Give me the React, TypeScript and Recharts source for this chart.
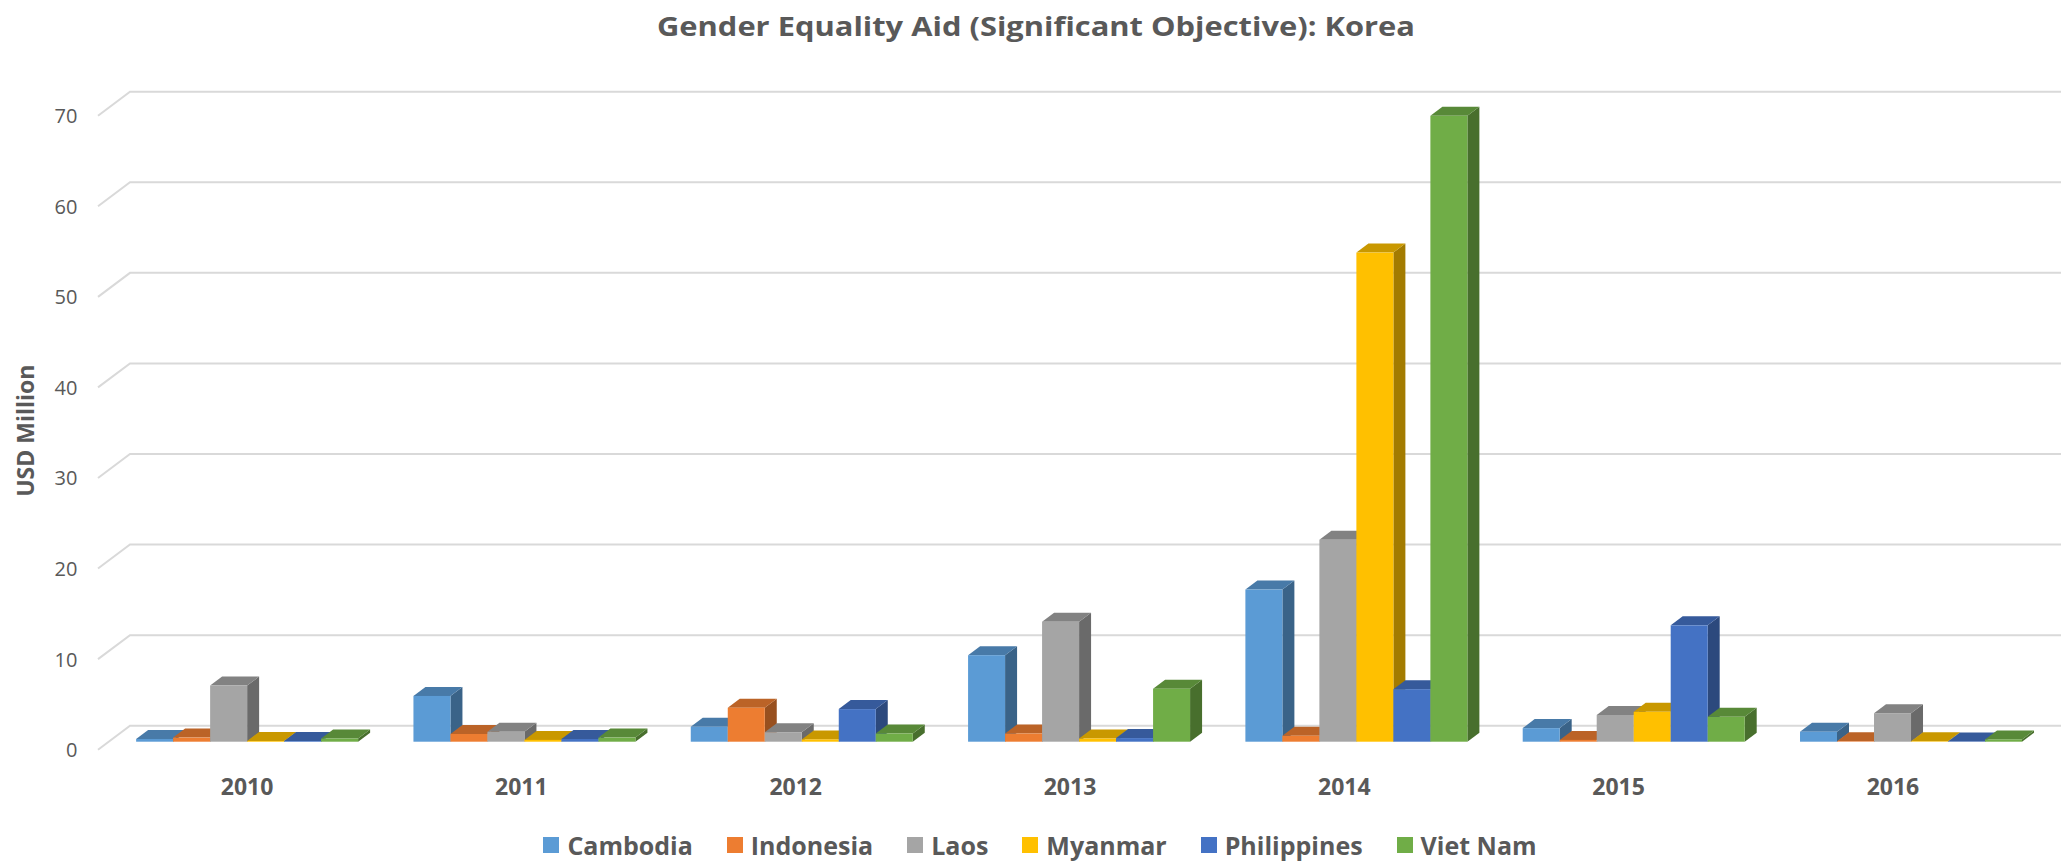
import React from 'react';
import { BarChart, Bar, XAxis, YAxis, CartesianGrid, Legend } from 'recharts';

const years = ['2010', '2011', '2012', '2013', '2014', '2015', '2016'];
const countries = ['Cambodia', 'Indonesia', 'Laos', 'Myanmar', 'Philippines', 'Viet Nam'];
const colors = ['#5B9BD5', '#ED7D31', '#A5A5A5', '#FFC000', '#4472C4', '#70AD47'];

// USD million
const cambodia = [0.3, 5.05, 1.65, 9.55, 16.8, 1.5, 1.1];
const indonesia = [0.45, 0.85, 3.75, 0.9, 0.65, 0.2, 0.05];
const laos = [6.2, 1.1, 1.05, 13.25, 22.3, 2.95, 3.15];
const myanmar = [0.08, 0.2, 0.25, 0.35, 54.0, 3.3, 0.05];
const philippines = [0.08, 0.3, 3.6, 0.4, 5.8, 12.85, 0.03];
const vietNam = [0.35, 0.45, 0.9, 5.85, 69.1, 2.75, 0.25];

const seriesValues = [cambodia, indonesia, laos, myanmar, philippines, vietNam];
const yTicks = [0, 10, 20, 30, 40, 50, 60, 70];

const data = years.map((year, i) => {
  const row: Record<string, string | number> = { year };
  countries.forEach((c, k) => {
    row[c] = seriesValues[k][i];
  });
  return row;
});

const W = 2061;
const H = 863;
const TEXT = '#595959';
const FONT = "'Open Sans', 'Noto Sans', sans-serif";

// 3D look: bar depth and wall offsets
const DX = 12;
const DY = 9;

const shade = (hex: string, f: number) => {
  const n = parseInt(hex.slice(1), 16);
  const r = Math.round(((n >> 16) & 255) * f);
  const g = Math.round(((n >> 8) & 255) * f);
  const b = Math.round((n & 255) * f);
  return `rgb(${r},${g},${b})`;
};

const Bar3D = (props: any) => {
  const { x, y, width, height, fill } = props;
  if (x == null || y == null) return null;
  const top = `M${x},${y} L${x + DX},${y - DY} L${x + width + DX},${y - DY} L${x + width},${y} Z`;
  const side = `M${x + width},${y} L${x + width + DX},${y - DY} L${x + width + DX},${y + height - DY} L${x + width},${y + height} Z`;
  return (
    <g>
      <path d={side} fill={shade(fill, 0.64)} />
      <path d={top} fill={shade(fill, 0.79)} />
      <rect x={x} y={y} width={width} height={height} fill={fill} />
    </g>
  );
};

const gridLine = (p: any) => {
  const y = p.y1;
  const x0 = p.x1;
  return (
    <path
      key={p.key ?? `g-${p.index}`}
      d={`M${x0 - 10.4},${y + 8} L${x0 + 21.6},${y - 16} L${W},${y - 16}`}
      stroke="#D9D9D9"
      strokeWidth={2}
      fill="none"
    />
  );
};

const YTick = ({ x, y, payload }: any) => (
  <text x={x - 23} y={y + 8} textAnchor="end" dominantBaseline="central" fontSize={20} fill={TEXT} fontFamily={FONT}>
    {payload.value}
  </text>
);

const XTick = ({ x, y, payload, index }: any) => (
  <text
    x={x - index * 3}
    y={y + 36}
    textAnchor="middle"
    dominantBaseline="central"
    fontSize={23}
    fontWeight={700}
    fill={TEXT}
    fontFamily={FONT}
  >
    {payload.value}
  </text>
);

const YLabel = (p: any) => {
  const vb = p.viewBox || { y: 0, height: 0 };
  const cy = vb.y + vb.height / 2 + 6;
  return (
    <text
      x={25}
      y={cy}
      transform={`rotate(-90, 25, ${cy})`}
      textAnchor="middle"
      dominantBaseline="central"
      fontSize={23}
      fontWeight={700}
      fill={TEXT}
      fontFamily={FONT}
    >
      USD Million
    </text>
  );
};

const renderLegend = () => (
  <div
    style={{
      display: 'flex',
      justifyContent: 'center',
      alignItems: 'center',
      height: 30,
      paddingRight: 18,
      fontFamily: FONT,
      fontWeight: 700,
      fontSize: 25,
      color: TEXT,
    }}
  >
    {countries.map((c, k) => (
      <div key={c} style={{ display: 'flex', alignItems: 'center', marginRight: k < countries.length - 1 ? 34 : 0 }}>
        <span style={{ display: 'inline-block', width: 16, height: 16, background: colors[k], marginRight: 8 }} />
        {c}
      </div>
    ))}
  </div>
);

export default function App() {
  return (
    <div style={{ position: 'absolute', left: 0, top: 0, width: W, height: H, background: '#fff', fontFamily: FONT }}>
      <BarChart
        width={W}
        height={H}
        data={data}
        margin={{ top: 107.7, right: 11.4, bottom: 3, left: 48.4 }}
        barCategoryGap="10%"
        barGap={0}
      >
        <text
          x={1036}
          y={25}
          textAnchor="middle"
          dominantBaseline="central"
          fontSize={27}
          fontWeight={700}
          fill={TEXT}
          fontFamily={FONT}
          textLength={758}
          lengthAdjust="spacingAndGlyphs"
        >
          Gender Equality Aid (Significant Objective): Korea
        </text>
        <CartesianGrid vertical={false} horizontal={gridLine} />
        <XAxis dataKey="year" axisLine={false} tickLine={false} height={88.3} tick={<XTick />} interval={0} />
        <YAxis
          domain={[0, 70]}
          ticks={yTicks}
          axisLine={false}
          tickLine={false}
          width={60}
          tick={<YTick />}
          label={YLabel}
        />
        <Legend verticalAlign="bottom" align="center" content={renderLegend} />
        {countries.map((c, k) => (
          <Bar key={c} dataKey={c} fill={colors[k]} shape={Bar3D} isAnimationActive={false} />
        ))}
      </BarChart>
    </div>
  );
}
